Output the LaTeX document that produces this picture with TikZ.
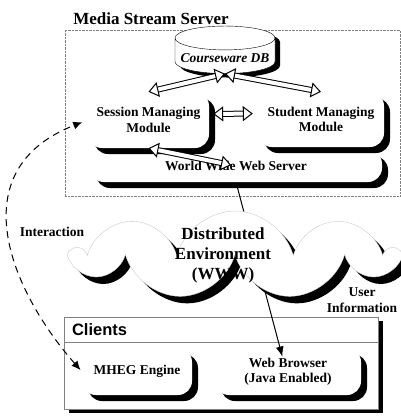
\documentclass[tikz,border=0pt]{standalone}
\usepackage{fontspec}
\setmainfont{Liberation Serif}
\setsansfont{Liberation Sans}
\usetikzlibrary{positioning, shapes.geometric, shapes.symbols, shadows, arrows.meta}

\begin{document}
\begin{tikzpicture}[x=1pt, y=-1pt,
  every node/.style={font=\fontsize{13.5}{15.5}\selectfont\bfseries, align=center},
  modbox/.style={fill=white, rounded corners=14pt,
    drop shadow={fill=black, opacity=1, shadow xshift=6pt, shadow yshift=-6pt}},
  dblarrow/.style={line width=1pt, double=white, double distance=4pt,
    {Triangle[open, fill=white, width=15pt, length=10pt]}-{Triangle[open, fill=white, width=15pt, length=10pt]}}]
\useasboundingbox (0,0) rectangle (401,418);

% server side
\node (srvtitle) at (151,19) {\fontsize{17}{19}\selectfont Media Stream Server};
\node (server) [draw=gray, densely dotted, thin, minimum width=335, minimum height=166] at (232.5,113) {};
\node (www) [modbox, minimum width=292, minimum height=32] at (236,166) {World Wide Web Server};
\node (session) [modbox, minimum width=121, minimum height=56] at (148.5,120) {Session Managing\\Module};
\node (student) [modbox, minimum width=126, minimum height=55] at (321,119.5) {Student Managing\\Module};
\node (db) [cylinder, shape border rotate=90, aspect=0.25, fill=white, draw,
  minimum width=100, minimum height=31,
  drop shadow={fill=black, opacity=1, shadow xshift=5pt, shadow yshift=-4pt}]
  at (225,58) {\itshape Courseware DB};
\draw[dblarrow] (db.south) -- (session.north);
\draw[dblarrow] (db.south) -- (student.north);
\draw[dblarrow, shorten <=4pt, shorten >=5pt] ([yshift=6pt]session.east) -- ([yshift=6pt]student.west);
\draw[dblarrow, shorten >=5pt] (session.south) -- (www.center);

% clients side
\node (clients) [draw=gray, fill=white, minimum width=314, minimum height=92,
  drop shadow={fill=black, opacity=1, shadow xshift=5pt, shadow yshift=-4pt}] at (221,363) {};
\node (clihead) [draw=gray, anchor=north west, text width=298, inner xsep=8pt, minimum height=25,
  align=left, font=\sffamily\fontsize{16.5}{18}\selectfont\bfseries] at (clients.north west) {Clients};
\node (mheg) [modbox, minimum width=110, minimum height=47] at (137,371.5) {MHEG Engine};
\node (browser) [modbox, minimum width=146, minimum height=47] at (288,371.5) {Web Browser\\(Java Enabled)};

\draw[line width=1pt, -{Latex[length=10pt, width=8pt]}, shorten <=6pt, shorten >=-9pt]
  (www.south) -- ([xshift=-8pt]browser.north);

% network in between
\node (env) [cloud, cloud puffs=9, cloud ignores aspect, fill=white, draw=gray!40,
  inner sep=0pt, minimum width=320, minimum height=88,
  drop shadow={fill=black, opacity=1, shadow xshift=7pt, shadow yshift=-7pt},
  label={[font=\fontsize{17}{20}\selectfont\bfseries, xshift=-12pt]center:Distributed\\Environment\\(WWW)}]
  at (235,255) {};
\node (interact) at (52,232) {Interaction};
\node (userinfo) at (362,300) {User\\Information};

\draw[line width=1pt, dash pattern=on 7pt off 5pt, {Latex[length=9pt, width=8pt]}-{Latex[length=9pt, width=8pt]}, shorten <=2pt, shorten >=6pt]
  (mheg.west) .. controls (10,290) and (-40,170) .. (session.west);
\end{tikzpicture}
\end{document}
